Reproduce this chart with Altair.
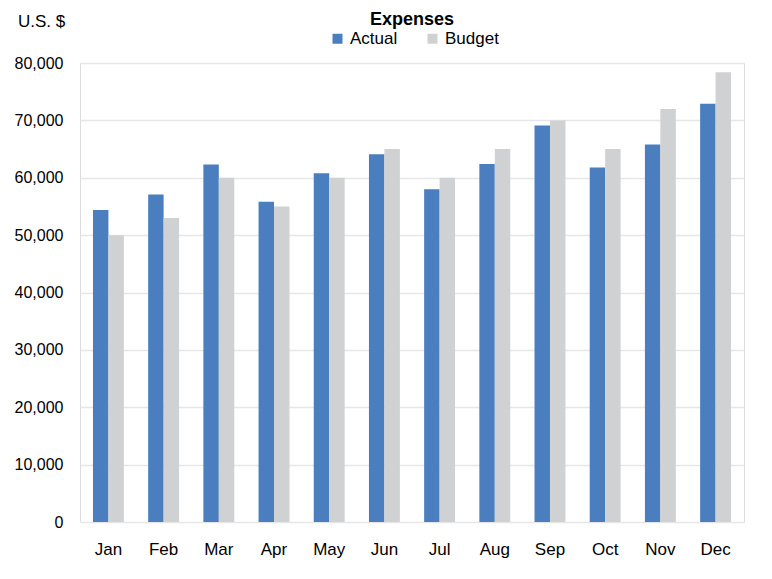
import altair as alt
import pandas as pd

months = ["Jan", "Feb", "Mar", "Apr", "May", "Jun", "Jul", "Aug", "Sep", "Oct", "Nov", "Dec"]
actual = [54400, 57100, 62300, 55800, 60800, 64100, 58000, 62400, 69100, 61800, 65800, 72900]
budget = [50000, 53000, 60000, 55000, 60000, 65000, 60000, 65000, 70000, 65000, 72000, 78400]
series = ["Actual", "Budget"]
colors = ["#4a7ebf", "#d0d1d3"]

rows = []
for m, a, b in zip(months, actual, budget):
    rows.append({"Month": m, "Series": "Actual", "Value": a})
    rows.append({"Month": m, "Series": "Budget", "Value": b})
df = pd.DataFrame(rows)

FONT = "Liberation Sans"

chart = alt.Chart(df).mark_bar().encode(
    x=alt.X("Month:N", sort=months,
            scale=alt.Scale(paddingInner=0.44, paddingOuter=0.235),
            axis=alt.Axis(title=None, labelAngle=0, ticks=False, domain=False,
                          labelPadding=19, labelFontSize=17, labelColor="#000000",
                          labelFont=FONT)),
    xOffset=alt.XOffset("Series:N", sort=series,
                        scale=alt.Scale(paddingInner=0, paddingOuter=0)),
    y=alt.Y("Value:Q", scale=alt.Scale(domain=[0, 80000]),
            axis=alt.Axis(title="U.S. $", titleAngle=0, titleAlign="center",
                          titleBaseline="middle", titleX=-39, titleY=-42,
                          titleFontWeight="normal", titleFontSize=17, titleFont=FONT,
                          titleColor="#000000",
                          values=list(range(0, 80001, 10000)), format=",d",
                          ticks=False, domain=False, labelPadding=17,
                          labelFontSize=16, labelColor="#000000", labelFont=FONT,
                          gridColor="#e6e6e6", gridWidth=1.5)),
    color=alt.Color("Series:N", sort=series,
                    scale=alt.Scale(domain=series, range=colors),
                    legend=alt.Legend(title=None, orient="none", direction="horizontal",
                                      legendX=249, legendY=-33,
                                      symbolType="square", symbolSize=100,
                                      symbolStrokeWidth=0, labelFontSize=17,
                                      labelFont=FONT, labelColor="#000000",
                                      columnPadding=26, labelOffset=4)),
).properties(
    width=664,
    height=459,
    title=alt.TitleParams("Expenses", fontSize=18, font=FONT, fontWeight="bold",
                          color="#000000", anchor="middle", offset=-17),
    autosize=alt.AutoSizeParams(type="none"),
    padding={"left": 72, "top": 55, "right": 20, "bottom": 49},
).configure_view(
    stroke="#d4d4d4", strokeWidth=2
).configure(background="white")

chart.save("out.html", embed_options={"renderer": "svg", "actions": False})
